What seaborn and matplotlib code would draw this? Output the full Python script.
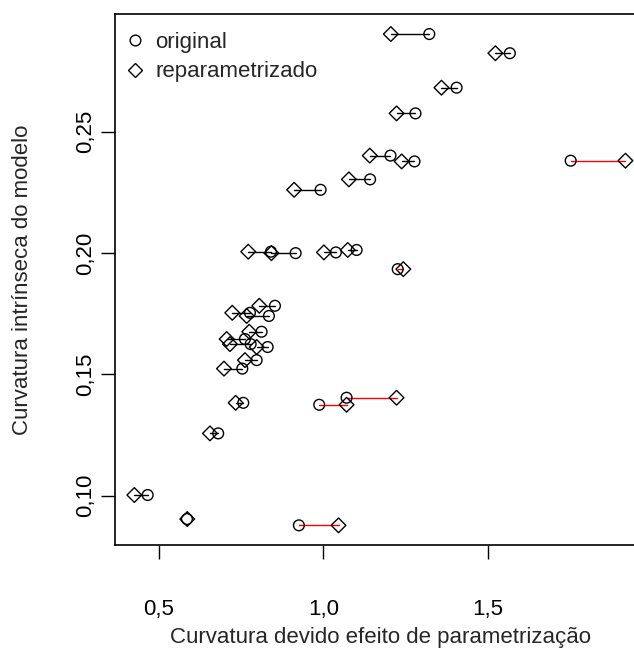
import matplotlib
matplotlib.use("Agg")
import matplotlib.pyplot as plt
from matplotlib.lines import Line2D
import seaborn as sns
import pandas as pd

# --- data ---
curv_original = [1.322, 1.567, 1.405, 1.280, 1.204, 1.277, 1.142, 1.752, 0.9915, 0.8404,
                 0.9155, 1.038, 1.101, 1.226, 0.8526, 0.7766, 0.8343, 0.812, 0.7614, 0.7787,
                 0.8304, 0.797, 0.7533, 0.7563, 0.680, 0.4656, 0.585, 0.9255, 0.9873, 1.0705]
curv_reparam = [1.205, 1.523, 1.359, 1.2225, 1.141, 1.238, 1.0775, 1.9185, 0.911, 0.7714,
                0.8419, 1.0015, 1.074, 1.243, 0.805, 0.7228, 0.7666, 0.7745, 0.7058, 0.7158,
                0.797, 0.7614, 0.6976, 0.7331, 0.655, 0.425, 0.586, 1.046, 1.0705, 1.2225]
curv_intrinseca = [0.2903, 0.2824, 0.2682, 0.2576, 0.2402, 0.2378, 0.2304, 0.2381, 0.2261, 0.2006,
                   0.2000, 0.2003, 0.2013, 0.1934, 0.1783, 0.1754, 0.1741, 0.1676, 0.1646, 0.1625,
                   0.1613, 0.1559, 0.1524, 0.1383, 0.1257, 0.1003, 0.0904, 0.0878, 0.1375, 0.1404]

x_ticks = [0.5, 1.0, 1.5]
x_ticklabels = ["0,5", "1,0", "1,5"]
y_ticks = [0.10, 0.15, 0.20, 0.25]
y_ticklabels = ["0,10", "0,15", "0,20", "0,25"]
legend_labels = ["original", "reparametrizado"]
xlabel = "Curvatura devido efeito de parametrização"
ylabel = "Curvatura intrínseca do modelo"

sns.set_style("white")
plt.rcParams["font.family"] = ["Liberation Sans", "DejaVu Sans"]

W, H = 634, 651
fig = plt.figure(figsize=(W / 100, H / 100), dpi=100)
left_px, right_px, top_px, bottom_px = 114.6, 645.0, 14.4, 545.0
ax = fig.add_axes([left_px / W, 1 - bottom_px / H,
                   (right_px - left_px) / W, (bottom_px - top_px) / H])

# segments
seg_rows = []
for i, (c, d, y) in enumerate(zip(curv_original, curv_reparam, curv_intrinseca)):
    cor = "vermelho" if d > c else "preto"
    seg_rows.append({"par": i, "x": c, "y": y, "cor": cor})
    seg_rows.append({"par": i, "x": d, "y": y, "cor": cor})
df_seg = pd.DataFrame(seg_rows)
sns.lineplot(data=df_seg, x="x", y="y", units="par", estimator=None, hue="cor",
             palette={"preto": "black", "vermelho": "#ff0000"}, sort=False,
             legend=False, linewidth=1.0, ax=ax)

df_orig = pd.DataFrame({"x": curv_original, "y": curv_intrinseca})
df_rep = pd.DataFrame({"x": curv_reparam, "y": curv_intrinseca})
sns.scatterplot(data=df_orig, x="x", y="y", marker="o", s=60, facecolors="none",
                edgecolor="black", linewidth=1.0, ax=ax, zorder=3)
sns.scatterplot(data=df_rep, x="x", y="y", marker="D", s=56, facecolors="none",
                edgecolor="black", linewidth=1.0, ax=ax, zorder=3)

ax.set_xlim(0.365, 1.978)
ax.set_ylim(0.0797, 0.2984)

ax.set_xticks(x_ticks)
ax.set_xticklabels(x_ticklabels)
ax.set_yticks(y_ticks)
ax.set_yticklabels(y_ticklabels, rotation=90, va="center")
ax.tick_params(axis="x", direction="out", length=10, width=1, pad=29, labelsize=16,
               bottom=True, colors="black")
ax.tick_params(axis="y", direction="out", length=10, width=1, pad=3, labelsize=16,
               left=True, colors="black")
for sp in ax.spines.values():
    sp.set_visible(True)
    sp.set_color("black")
    sp.set_linewidth(1.2)

ax.set_xlabel("")
ax.set_ylabel("")
fig.text(380 / W, 1 - 637 / H, xlabel, ha="center", va="center", fontsize=16)
fig.text(23 / W, 1 - 280 / H, ylabel, ha="center", va="center", rotation=90, fontsize=16)

handles = [Line2D([], [], marker="o", linestyle="none", markerfacecolor="none",
                  markeredgecolor="black", markersize=7.7, markeredgewidth=1.0),
           Line2D([], [], marker="D", linestyle="none", markerfacecolor="none",
                  markeredgecolor="black", markersize=7.5, markeredgewidth=1.0)]
ax.legend(handles, legend_labels, loc="upper left", bbox_to_anchor=(124 / W, 1 - 32 / H),
          bbox_transform=fig.transFigure, frameon=False, fontsize=16, handlelength=1.0,
          handletextpad=0.4, labelspacing=0.38, borderpad=0, borderaxespad=0)

fig.savefig("out.png", dpi=100)
